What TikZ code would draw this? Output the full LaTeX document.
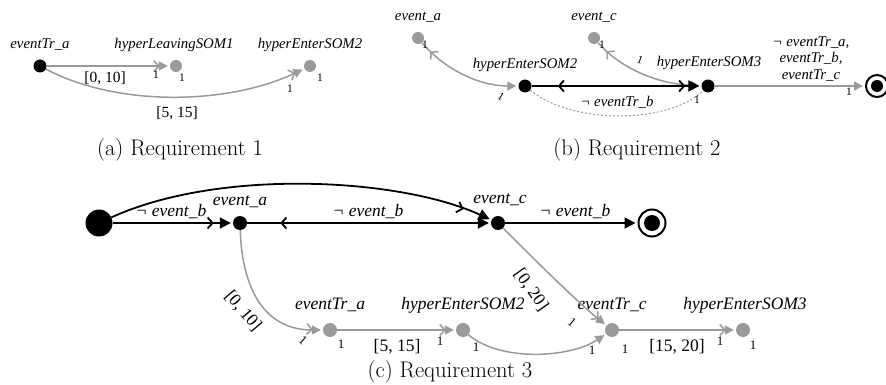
\documentclass[tikz,border=0pt]{standalone}
\usepackage{fontspec}
\newfontfamily\lbf{Liberation Serif}
\usetikzlibrary{arrows.meta,decorations.markings}
\definecolor{gry}{HTML}{9A9A9A}
\begin{document}
\begin{tikzpicture}[x=1pt,y=-1pt,
  lab/.style={font=\lbf\itshape\fontsize{14.8}{16.5}\selectfont, inner sep=0},
  elab/.style={font=\lbf\fontsize{15.5}{17}\selectfont, inner sep=0},
  labc/.style={font=\lbf\itshape\fontsize{17.5}{19}\selectfont, inner sep=0},
  elabc/.style={font=\lbf\fontsize{17.5}{19}\selectfont, inner sep=0},
  one/.style={font=\lbf\fontsize{11.5}{12}\selectfont, inner sep=0},
  onec/.style={font=\lbf\fontsize{13}{14}\selectfont, inner sep=0},
  captxt/.style={font=\fontsize{22.6}{26}\selectfont, inner sep=0},
  bdot/.style={circle,fill=black,inner sep=0,minimum size=13pt},
  gdot/.style={circle,fill=gry,inner sep=0,minimum size=12pt},
  fin/.style={circle,draw=black,line width=2pt,fill=white,inner sep=0,minimum size=#1},
  ge/.style={gry,line width=1.5pt},
  be/.style={black,line width=1.8pt},
  tip/.style={-{Triangle[length=9pt,width=9pt]},shorten >=2pt},
  btip/.style={-{Triangle[length=11pt,width=11pt]},shorten >=2pt},
  ch/.style={postaction={decorate,decoration={markings,mark=at position #1 with {\arrow{Straight Barb[length=5pt,width=11pt]}}}}},
  rch/.style={postaction={decorate,decoration={markings,mark=at position #1 with {\arrowreversed{Straight Barb[length=5pt,width=11pt]}}}}}
]
\useasboundingbox (0,0) rectangle (886,385);

% ---------- (a)
\node[bdot] (a0) at (40,66) {};
\node[gdot] (a1) at (176,66) {};
\node[gdot] (a2) at (310,66) {};
\node[lab] (la0) at (40,45) {eventTr\_a};
\node[lab] (la1) at (174,45) {hyperLeavingSOM1};
\node[lab] (la2) at (310,45) {hyperEnterSOM2};
\draw[ge,tip,ch=-10pt] (a0) -- (a1);
\draw[ge,tip,ch=-10pt] (a0) .. controls (120,108) and (230,104) .. (a2);
\node[elab] (ea1) at (105,78) {[0, 10]};
\node[elab] (ea2) at (177,113) {[5, 15]};
\node[one] (oa1) at (156,75) {1};
\node[one] (oa2) at (182,78) {1};
\node[one] (oa3) at (290,89) {1};
\node[one] (oa4) at (320,78) {1};
\node[captxt] (capa) at (180,150) {(a) Requirement 1};

% ---------- (b)
\node[gdot] (ba) at (418,38) {};
\node[gdot] (bc) at (594,38) {};
\node[bdot] (b2) at (525,86) {};
\node[bdot] (b3) at (708,86) {};
\node[fin=22pt] (bf) at (877,86) {};
\fill (bf.center) circle (6);
\node[lab] (lba) at (418,17) {event\_a};
\node[lab] (lbc) at (594,17) {event\_c};
\node[lab] (lb2) at (525,65) {hyperEnterSOM2};
\node[lab] (lb3) at (709,63) {hyperEnterSOM3};
\draw[ge,tip,rch=12pt] (ba) .. controls (445,70) and (480,86) .. (b2);
\draw[ge,tip,rch=12pt] (bc) .. controls (622,70) and (660,84) .. (b3);
\draw[be,btip,rch=26pt,ch=-16pt] (b2) -- (b3);
\draw[gry,line width=1pt,dash pattern=on 2pt off 2pt] (b2) .. controls (575,126) and (670,123) .. (b3);
\draw[ge,tip] (b3) -- (bf);
\node[lab] (eb1) at (617,102) {¬ eventTr\_b};
\node[lab,align=center] (eb2) at (811,59) {¬ eventTr\_a,\\eventTr\_b,\\eventTr\_c};
\node[one] (ob1) at (425,45) {1};
\node[one] (ob2) at (602,45) {1};
\node[one,rotate=-30] (ob3) at (501,97) {1};
\node[one,rotate=-20] (ob4) at (640,60) {1};
\node[one] (ob5) at (697,100) {1};
\node[one] (ob6) at (849,92) {1};
\node[captxt] (capb) at (637,150) {(b) Requirement 2};

% ---------- (c)
\node[circle,fill=black,inner sep=0,minimum size=27pt] (ci) at (99,223) {};
\node[bdot,minimum size=14pt] (ca) at (240,223) {};
\node[bdot,minimum size=14pt] (cc) at (498,223) {};
\node[fin=27pt] (cf) at (652,223) {};
\fill (cf.center) circle (8);
\node[gdot,minimum size=14pt] (cta) at (330,330) {};
\node[gdot,minimum size=14pt] (c2) at (463,330) {};
\node[gdot,minimum size=14pt] (ctc) at (612,330) {};
\node[gdot,minimum size=14pt] (c3) at (743,330) {};
\node[labc] (lca) at (240,202) {event\_a};
\node[labc] (lcc) at (500,200) {event\_c};
\node[labc] (lcta) at (330,305) {eventTr\_a};
\node[labc] (lc2) at (463,305) {hyperEnterSOM2};
\node[labc] (lctc) at (612,305) {eventTr\_c};
\node[labc] (lc3) at (745,305) {hyperEnterSOM3};
\draw[be,btip,ch=-19pt] (ci) -- (ca);
\draw[be,btip,rch=33pt] (ca) -- (cc);
\draw[be,btip,ch=-30pt] (ci) .. controls (220,168) and (400,178) .. (cc);
\draw[be,btip] (cc) -- (cf);
\draw[ge,tip,ch=-10pt] (ca) .. controls (242,285) and (262,330) .. (cta);
\draw[ge,tip,ch=-10pt] (cta) -- (c2);
\draw[ge,tip,ch=-10pt] (cc) .. controls (530,255) and (575,300) .. (ctc);
\draw[ge,tip] (c2) .. controls (500,362) and (570,358) .. (ctc);
\draw[ge,tip,ch=-10pt] (ctc) -- (c3);
\node[labc] (ec1) at (171,212) {¬ event\_b};
\node[labc] (ec2) at (368,212) {¬ event\_b};
\node[labc] (ec3) at (575,212) {¬ event\_b};
\node[elabc,rotate=-50] (ec4) at (243,311) {[0, 10]};
\node[elabc,rotate=-55] (ec5) at (531,290) {[0, 20]};
\node[elabc] (ec6) at (397,347) {[5, 15]};
\node[elabc] (ec7) at (677,347) {[15, 20]};
\node[onec,rotate=-40] (oc1) at (303,340) {1};
\node[onec] (oc2) at (341,344) {1};
\node[onec] (oc3) at (440,341) {1};
\node[onec] (oc4) at (476,347) {1};
\node[onec,rotate=-40] (oc5) at (572,322) {1};
\node[onec] (oc6) at (592,350) {1};
\node[onec] (oc7) at (625,349) {1};
\node[onec] (oc8) at (720,341) {1};
\node[onec] (oc9) at (753,345) {1};
\node[captxt] (capc) at (450,372) {(c) Requirement 3};
\end{tikzpicture}
\end{document}
